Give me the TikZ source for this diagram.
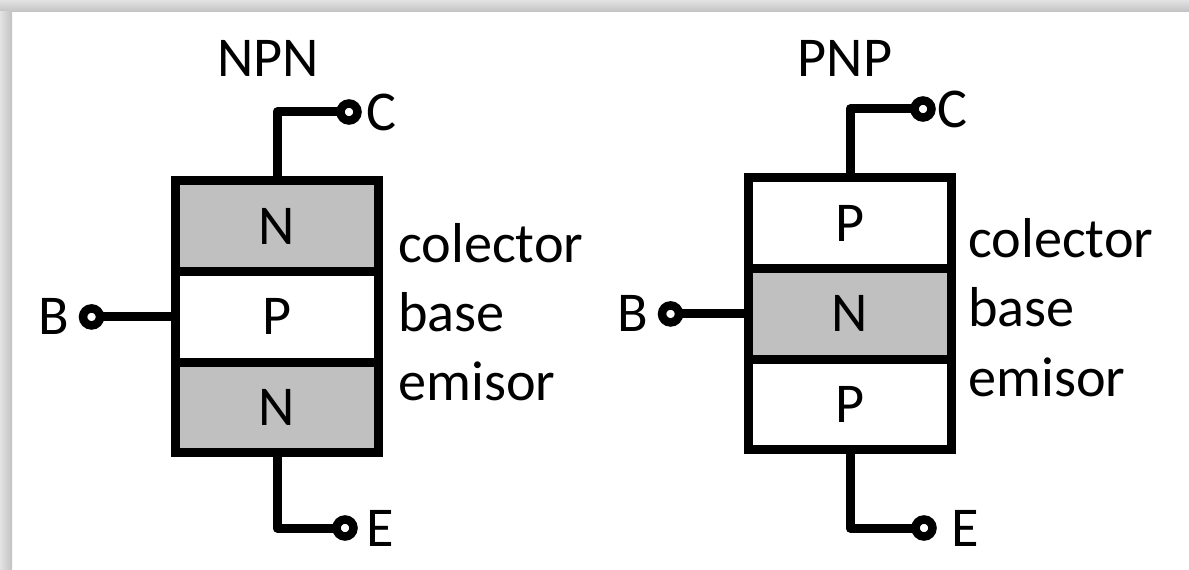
\documentclass[tikz,border=0pt]{standalone}
\usepackage{fontspec}
\setmainfont{Carlito}
\usepackage{tikz}
\usetikzlibrary{positioning,shapes}
\usepackage{xcolor}
\definecolor{dopedgray}{RGB}{192,192,192}

\begin{document}
\begin{tikzpicture}[
    x=0.02cm, y=-0.02cm,
    zone/.style={draw, rectangle, line width=0.18cm, minimum width=4.08cm, minimum height=1.813cm, inner sep=0pt, outer sep=0pt, font=\fontsize{32}{38}\selectfont},
    term/.style={draw, circle, fill=white, line width=0.17cm, minimum size=0.34cm, inner sep=0pt, outer sep=0pt},
    lead/.style={line width=0.18cm, line join=round},
    lbl/.style={inner sep=0pt, font=\fontsize{32}{38}\selectfont},
    node distance=0cm
]
    % Frame
    \useasboundingbox (0,0) rectangle (1189,570);
    \fill[white] (0,0) rectangle (1189,570);
    \fill[top color=gray!22, bottom color=gray!48] (0,0) rectangle (1189,12);
    \fill[left color=gray!22, right color=gray!48] (0,12) rectangle (12,570);

    % NPN
    \node[lbl, anchor=base] (npnTitle) at (268,77) {NPN};
    \node[zone, fill=dopedgray] (npnColl) at (277,226.3) {N};
    \node[zone, below=of npnColl] (npnBase) {P};
    \node[zone, fill=dopedgray, below=of npnBase] (npnEmit) {N};

    \node[term] (npnCt) at (349,112) {};
    \node[term] (npnEt) at (345,528) {};
    \node[term, left=1.5cm of npnBase] (npnBt) {};
    \draw[lead] (npnColl.north) |- (npnCt);
    \draw[lead] (npnEmit.south) |- (npnEt);
    \draw[lead] (npnBase.west) -- (npnBt);

    \node[lbl, right=0.18cm of npnCt] (npnClbl) {C};
    \node[lbl, right=0.25cm of npnEt] (npnElbl) {E};
    \node[lbl, left=0.27cm of npnBt] (npnBlbl) {B};

    \node[lbl, anchor=base west] (npnCollTxt) at (398,263) {colector};
    \node[lbl, anchor=base west] (npnBaseTxt) at (398,332) {base};
    \node[lbl, anchor=base west] (npnEmitTxt) at (398,400) {emisor};

    % PNP
    \node[lbl, anchor=base] (pnpTitle) at (845,77) {PNP};
    \node[zone] (pnpColl) at (850,223.3) {P};
    \node[zone, fill=dopedgray, below=of pnpColl] (pnpBase) {N};
    \node[zone, below=of pnpBase] (pnpEmit) {P};

    \node[term] (pnpCt) at (923,109) {};
    \node[term] (pnpEt) at (924,528) {};
    \node[term, left=1.38cm of pnpBase] (pnpBt) {};
    \draw[lead] (pnpColl.north) |- (pnpCt);
    \draw[lead] (pnpEmit.south) |- (pnpEt);
    \draw[lead] (pnpBase.west) -- (pnpBt);

    \node[lbl, right=0.11cm of pnpCt] (pnpClbl) {C};
    \node[lbl, right=0.37cm of pnpEt] (pnpElbl) {E};
    \node[lbl, left=0.27cm of pnpBt] (pnpBlbl) {B};

    \node[lbl, anchor=base west] (pnpCollTxt) at (968,258) {colector};
    \node[lbl, anchor=base west] (pnpBaseTxt) at (968,327) {base};
    \node[lbl, anchor=base west] (pnpEmitTxt) at (968,397) {emisor};
\end{tikzpicture}
\end{document}
